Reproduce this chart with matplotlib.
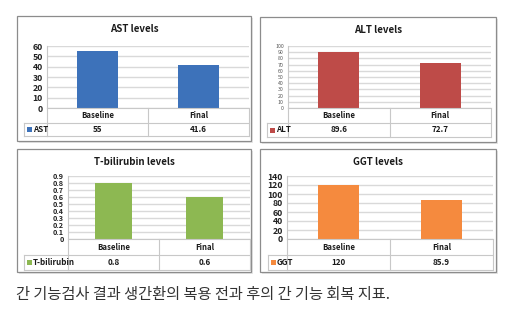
import matplotlib
matplotlib.use("Agg")
import matplotlib.pyplot as plt
from matplotlib.patches import Rectangle
from matplotlib.lines import Line2D
from matplotlib.transforms import blended_transform_factory

plt.rcParams['font.family'] = ['Noto Sans CJK KR', 'DejaVu Sans']

categories = ["Baseline", "Final"]

ast_values = [55, 41.6]
alt_values = [89.6, 72.7]
tbil_values = [0.8, 0.6]
ggt_values = [120, 85.9]

ast_labels = ["55", "41.6"]
alt_labels = ["89.6", "72.7"]
tbil_labels = ["0.8", "0.6"]
ggt_labels = ["120", "85.9"]

ast_ticks = [0, 10, 20, 30, 40, 50, 60]
alt_ticks = list(range(0, 101, 10))
tbil_ticks = [0, 0.1, 0.2, 0.3, 0.4, 0.5, 0.6, 0.7, 0.8, 0.9]
ggt_ticks = [0, 20, 40, 60, 80, 100, 120, 140]

caption = "간 기능검사 결과 생간환의 복용 전과 후의 간 기능 회복 지표."

W, H = 516, 328
fig = plt.figure(figsize=(W / 100, H / 100), dpi=100)
fig.patch.set_facecolor("white")


def fx(x):
    return x / W


def fy(y):
    return 1 - y / H


GRID = "#d9d9d9"
LINE = "#c8c8c8"
TXT = "#1a1a1a"


def panel(title, series, values, labels, ticks, color, box, plot, rows, leg_left,
          tick_fs=6.3, tick_bold=True, tick_color="#222222"):
    bx0, by0, bx1, by1 = box
    # outer frame with a faint shadow
    fig.add_artist(Rectangle((fx(bx0 + 1.5), fy(by1 + 1.5)), fx(bx1 - bx0), (by1 - by0) / H,
                             transform=fig.transFigure, facecolor="#e6e6e6",
                             edgecolor="none", zorder=0))
    fig.add_artist(Rectangle((fx(bx0), fy(by1)), fx(bx1 - bx0), (by1 - by0) / H,
                             transform=fig.transFigure, facecolor="white",
                             edgecolor="#8c8c8c", linewidth=0.9, zorder=1))
    fig.text(fx((bx0 + bx1) / 2), fy(by0 + 13), title, ha="center", va="center",
             fontsize=7.0, fontweight="bold", color=TXT, zorder=5)

    px0, py0, px1, py1 = plot
    ax = fig.add_axes([fx(px0), fy(py1), fx(px1 - px0), (py1 - py0) / H], zorder=3)
    ax.set_facecolor("none")
    x = list(range(len(categories)))
    ax.bar(x, values, width=0.4, color=color, zorder=3)
    ax.set_xlim(-0.5, len(categories) - 0.5)
    ax.set_ylim(ticks[0], ticks[-1])
    ax.set_yticks(ticks)
    ax.set_yticklabels([f"{t:g}" for t in ticks], fontsize=tick_fs,
                       fontweight="bold" if tick_bold else "normal", color=tick_color)
    ax.tick_params(axis="y", length=0, pad=3)
    ax.set_xticks([])
    ax.yaxis.grid(True, color=GRID, linewidth=1.0, zorder=0)
    ax.set_axisbelow(True)
    for s in ["top", "right", "bottom"]:
        ax.spines[s].set_visible(False)
    ax.spines["left"].set_color(LINE)
    ax.spines["left"].set_linewidth(0.8)

    # data table under the plot
    r0, r1, r2 = rows
    tr = blended_transform_factory(ax.transData, fig.transFigure)
    n = len(categories)
    for xb in [k - 0.5 for k in range(n + 1)]:
        fig.add_artist(Line2D([xb, xb], [fy(r0), fy(r2)], transform=tr,
                              color=LINE, linewidth=0.8, zorder=4))
    for yy in (r0, r1, r2):
        fig.add_artist(Line2D([-0.5, n - 0.5], [fy(yy), fy(yy)], transform=tr,
                              color=LINE, linewidth=0.8, zorder=4))
    # legend cell
    for yy in (r1, r2):
        fig.add_artist(Line2D([fx(leg_left), fx(px0)], [fy(yy), fy(yy)],
                              transform=fig.transFigure, color=LINE, linewidth=0.8, zorder=4))
    fig.add_artist(Line2D([fx(leg_left), fx(leg_left)], [fy(r1), fy(r2)],
                          transform=fig.transFigure, color=LINE, linewidth=0.8, zorder=4))
    ym = (r1 + r2) / 2
    fig.add_artist(Rectangle((fx(leg_left + 2.5), fy(ym + 2.5)), fx(5), 5 / H,
                             transform=fig.transFigure, facecolor=color,
                             edgecolor="none", zorder=5))
    fig.text(fx(leg_left + 9), fy(ym), series, ha="left", va="center",
             fontsize=5.8, fontweight="bold", color=TXT, zorder=5)
    for k in range(n):
        fig.text(k, fy((r0 + r1) / 2), categories[k], transform=tr, ha="center",
                 va="center", fontsize=5.6, fontweight="bold", color=TXT)
        fig.text(k, fy(ym), labels[k], transform=tr, ha="center", va="center",
                 fontsize=5.8, fontweight="bold", color=TXT)
    return ax


panel("AST levels", "AST", ast_values, ast_labels, ast_ticks, "#3d72ba",
      box=(17, 16, 251, 141), plot=(47, 46, 249, 108), rows=(108, 123, 136), leg_left=24)
panel("ALT levels", "ALT", alt_values, alt_labels, alt_ticks, "#be4b48",
      box=(260, 17, 496, 142), plot=(288, 46, 491, 108), rows=(108, 123, 137), leg_left=267,
      tick_fs=3.8, tick_bold=False, tick_color="#555555")
panel("T-bilirubin levels", "T-bilirubin", tbil_values, tbil_labels, tbil_ticks, "#8db852",
      box=(17, 149, 251, 272), plot=(68, 176, 250, 239), rows=(239, 255, 270), leg_left=24,
      tick_fs=5.2)
panel("GGT levels", "GGT", ggt_values, ggt_labels, ggt_ticks, "#f58a3e",
      box=(260, 149, 496, 272), plot=(287, 176, 493, 239), rows=(239, 255, 270), leg_left=268)

fig.text(fx(16), fy(295), caption, ha="left", va="center", fontsize=11, color="#333333")

fig.savefig("out.png", dpi=100, facecolor="white")
